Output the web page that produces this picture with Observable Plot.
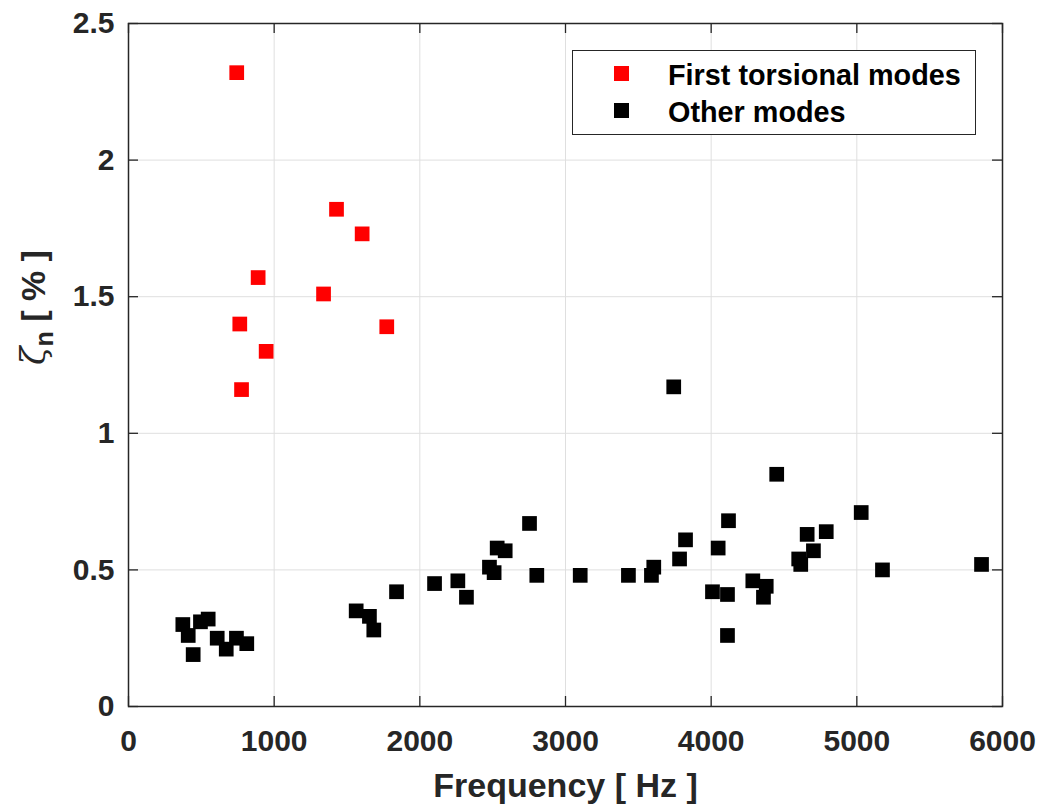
<!DOCTYPE html>
<html>
<head>
<meta charset="utf-8">
<script src="https://cdn.jsdelivr.net/npm/d3@7"></script>
<script src="https://cdn.jsdelivr.net/npm/@observablehq/plot@0.6"></script>
<style>
  html, body { margin: 0; padding: 0; background: white; }
  #wrap { position: relative; width: 1044px; height: 810px; font-family: "Liberation Sans", Arial, Helvetica, sans-serif; }
  #legend { position: absolute; left: 572px; top: 50px; width: 404px; height: 85px; border: 1.3px solid #262626; background: white; box-sizing: border-box; }
  .lg-mark { position: absolute; width: 15px; height: 15px; }
  .lg-text { position: absolute; left: 95px; font-size: 28.8px; font-weight: bold; line-height: 29px; color: #000; white-space: nowrap; }
</style>
</head>
<body>
<div id="wrap">
  <div id="chart"></div>
  <div id="legend">
    <div class="lg-mark" style="left:41px; top:15px; background:#ff0000;"></div>
    <div class="lg-text" style="top:10px;">First torsional modes</div>
    <div class="lg-mark" style="left:41px; top:52px; background:#000000;"></div>
    <div class="lg-text" style="top:47px;">Other modes</div>
  </div>
</div>
<script>
// Tick values
const xTicks = [0, 1000, 2000, 3000, 4000, 5000, 6000];
const yTicks = [0, 0.5, 1, 1.5, 2, 2.5];

// First torsional modes (red)
const torsFreq = [743, 1428, 1604, 890, 1339, 764, 1773, 945, 776];
const torsDamp = [2.32, 1.82, 1.73, 1.57, 1.51, 1.40, 1.39, 1.30, 1.16];

// Other modes (black)
const otherFreq = [373, 410, 444, 494, 547, 609, 671, 741, 812, 1563, 1654, 1684, 1840,
  2101, 2261, 2320, 2478, 2510, 2531, 2586, 2753, 2803, 3101, 3432, 3590, 3606, 3743,
  3783, 3824, 4009, 4048, 4112, 4112, 4119, 4286, 4359, 4378, 4450, 4601, 4615, 4659,
  4702, 4790, 5030, 5176, 5856];
const otherDamp = [0.30, 0.26, 0.19, 0.31, 0.32, 0.25, 0.21, 0.25, 0.23, 0.35, 0.33, 0.28, 0.42,
  0.45, 0.46, 0.40, 0.51, 0.49, 0.58, 0.57, 0.67, 0.48, 0.48, 0.48, 0.48, 0.51, 1.17,
  0.54, 0.61, 0.42, 0.58, 0.41, 0.26, 0.68, 0.46, 0.40, 0.44, 0.85, 0.54, 0.52, 0.63,
  0.57, 0.64, 0.71, 0.50, 0.52];

const tors = torsFreq.map((f, i) => ({f, z: torsDamp[i]}));
const other = otherFreq.map((f, i) => ({f, z: otherDamp[i]}));

const W = 1044, H = 810, mL = 128, mR = 42, mT = 23, mB = 104;
const frameW = W - mL - mR, frameH = H - mT - mB;
const tickLen = 10;
const axisColor = "#262626";
const yLabelText = "ζn [ % ]";

const chart = Plot.plot({
  width: W, height: H,
  marginLeft: mL, marginRight: mR, marginTop: mT, marginBottom: mB,
  x: {domain: [0, 6000]},
  y: {domain: [0, 2.5]},
  style: {
    fontFamily: "'Liberation Sans', Arial, Helvetica, sans-serif",
    fontWeight: "bold",
    color: axisColor,
    background: "white"
  },
  marks: [
    Plot.gridX(xTicks.slice(1, -1), {stroke: "#dfdfdf", strokeOpacity: 1, strokeWidth: 1}),
    Plot.gridY(yTicks.slice(1, -1), {stroke: "#dfdfdf", strokeOpacity: 1, strokeWidth: 1}),
    Plot.tickX(xTicks, {x: d => d, insetTop: frameH - tickLen, stroke: axisColor, strokeWidth: 1.3}),
    Plot.tickX(xTicks, {x: d => d, insetBottom: frameH - tickLen, stroke: axisColor, strokeWidth: 1.3}),
    Plot.tickY(yTicks, {y: d => d, insetRight: frameW - tickLen, stroke: axisColor, strokeWidth: 1.3}),
    Plot.tickY(yTicks, {y: d => d, insetLeft: frameW - tickLen, stroke: axisColor, strokeWidth: 1.3}),
    Plot.axisX({ticks: xTicks, tickSize: 0, tickPadding: 23, tickFormat: "d", label: null, fontSize: 30}),
    Plot.axisY({ticks: yTicks, tickSize: 0, tickPadding: 14, tickFormat: d => String(d), label: null, fontSize: 30}),
    Plot.dot(other, {x: "f", y: "z", symbol: "square", r: 8.3, fill: "#000000", stroke: null}),
    Plot.dot(tors, {x: "f", y: "z", symbol: "square", r: 8.3, fill: "#ff0000", stroke: null}),
    Plot.frame({stroke: axisColor, strokeWidth: 1.5}),
    Plot.text(["Frequency [ Hz ]"], {text: d => d, frameAnchor: "bottom", dy: 80, fontSize: 34, lineAnchor: "middle", fill: axisColor}),
    Plot.text([yLabelText], {text: d => d, frameAnchor: "left", dx: -94, rotate: -90, fontSize: 34, lineAnchor: "middle", fill: axisColor})
  ]
});

document.getElementById("chart").appendChild(chart);

// Rich y label: ζ (TeX-like) with subscript n
const yl = Array.from(chart.querySelectorAll("text")).find(t => t.textContent === yLabelText);
if (yl) {
  const NS = "http://www.w3.org/2000/svg";
  yl.textContent = "";
  const t1 = document.createElementNS(NS, "tspan");
  t1.setAttribute("font-family", "'DejaVu Serif', serif");
  t1.setAttribute("font-style", "italic");
  t1.setAttribute("font-weight", "normal");
  t1.textContent = "ζ";
  const t2 = document.createElementNS(NS, "tspan");
  t2.setAttribute("font-size", "25");
  t2.setAttribute("dy", "8");
  t2.textContent = "n";
  const t3 = document.createElementNS(NS, "tspan");
  t3.setAttribute("dy", "-8");
  t3.textContent = " [ % ]";
  yl.appendChild(t1); yl.appendChild(t2); yl.appendChild(t3);
}
</script>
</body>
</html>
